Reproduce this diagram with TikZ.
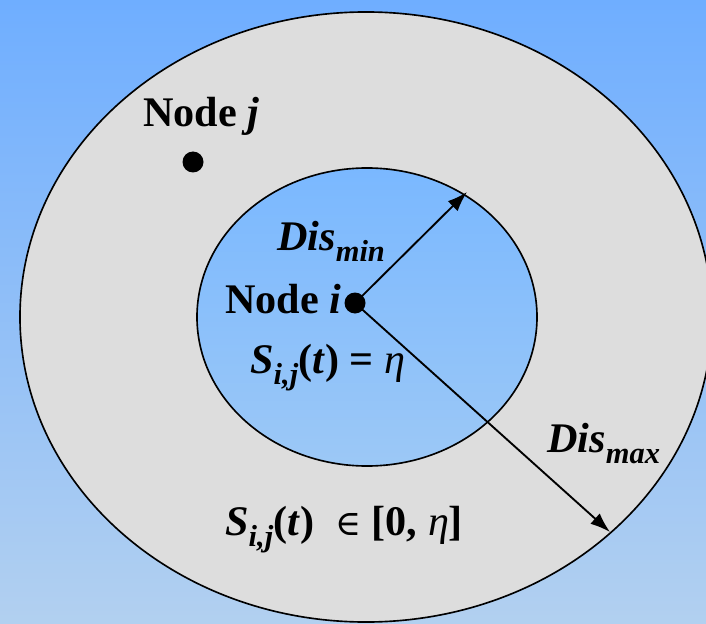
\documentclass[tikz,border=0pt]{standalone}
\usepackage{amsmath}
\usepackage{fontspec}
\setmainfont{Liberation Serif}
\newfontfamily\symfamily{DejaVu Serif}
\usepackage{tikz}
\usetikzlibrary{arrows.meta, positioning}
\usepackage{xcolor}

\definecolor{skytop}{RGB}{111,174,255}
\definecolor{skybot}{RGB}{178,208,240}
\definecolor{inntop}{RGB}{122,184,255}
\definecolor{innbot}{RGB}{156,200,246}
\definecolor{ringgray}{RGB}{221,221,221}

\newcommand{\subbi}[1]{\raisebox{-0.28em}{\fontsize{26}{28}\selectfont\textit{#1}}}

\tikzset{
  lbl/.style={font=\fontsize{36}{40}\selectfont\bfseries, inner sep=0pt},
  dot/.style={circle, fill=black, inner sep=0pt, minimum size=0.63cm},
  radius arrow/.style={-{Latex[length=0.6cm, width=0.42cm]}, line width=1.6pt},
}

\begin{document}
\begin{tikzpicture}[x=0.03cm, y=-0.03cm]
   \useasboundingbox (0,0) rectangle (706,624);
   \shade[top color=skytop, bottom color=skybot] (0,0) rectangle (706,624);

   % outer range (Dis_max) and inner range (Dis_min)
   \draw[fill=ringgray, line width=1.4pt] (366,317) ellipse [x radius=10.38cm, y radius=9.15cm];
   \shade[top color=inntop, bottom color=innbot] (367,317) ellipse [x radius=5.1cm, y radius=4.47cm];
   \draw[line width=1.4pt] (367,317) ellipse [x radius=5.1cm, y radius=4.47cm];

   \node[dot] (nodei) at (355,303) {};
   \node[dot] (nodej) at (193,162) {};
   \coordinate (mintip) at (467,192);
   \coordinate (maxtip) at (610,532);

   \node[lbl, anchor=base west] (labj) at (143,127) {Node \textit{j}};
   \node[lbl, anchor=base west] (labi) at (225,313) {Node \textit{i}};
   \node[lbl, anchor=base west] (labmin) at (277,250) {\textit{Dis}\subbi{min}};
   \node[lbl, anchor=base west] (labmax) at (547,452) {\textit{Dis}\subbi{max}};
   \node[lbl, anchor=base west] (labeq) at (250,373) {\textit{S}\subbi{i,j}(\textit{t}) = {\mdseries\itshape η}};
   \node[lbl, anchor=base west] (labin) at (225,535) {\textit{S}\subbi{i,j}(\textit{t})\ \ {\mdseries\symfamily\fontsize{30}{32}\selectfont ∈} [0, {\mdseries\itshape η}]};

   \path[radius arrow]
    (nodei.center) edge (mintip)
    (nodei.center) edge (maxtip);
\end{tikzpicture}
\end{document}
